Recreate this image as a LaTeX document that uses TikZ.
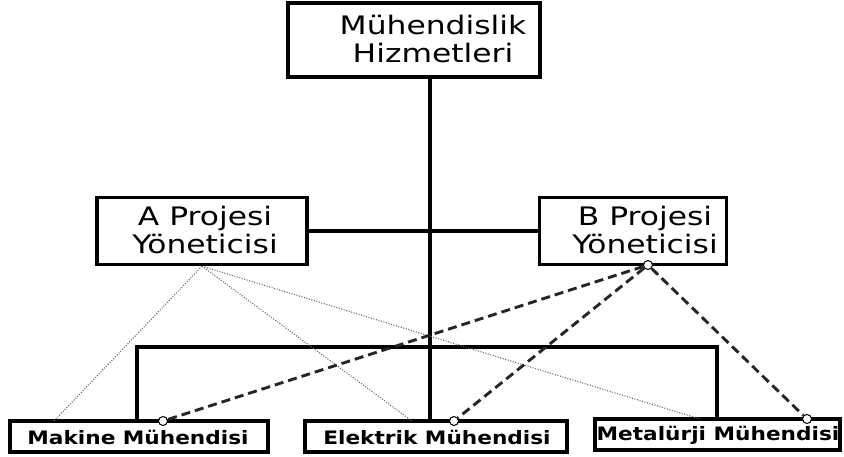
\documentclass[tikz,border=0pt]{standalone}
\usepackage{fontspec}
\newfontfamily\boxfont[FakeStretch=1.23]{DejaVu Sans}
\newfontfamily\rolefont[FakeStretch=1.17]{DejaVu Sans}
\usetikzlibrary{calc}
\begin{document}
\begin{tikzpicture}[x=1pt,y=-1pt,
  frame/.style={draw=black, line width=3.4pt, fill=white, inner sep=0pt},
  bigtext/.style={font=\boxfont\fontsize{25.5}{28.5}\selectfont, align=center, inner sep=0pt},
  roletext/.style={font=\rolefont\bfseries\fontsize{18.5}{21}\selectfont, inner sep=0pt},
  tree/.style={draw=black, line width=3.4pt},
  reportA/.style={draw=black!60, line width=1.1pt, dash pattern=on 1pt off 1.6pt},
  reportB/.style={draw=black!85, line width=2.9pt, dash pattern=on 9pt off 5pt},
  joint/.style={circle, draw=black, line width=1pt, fill=white, inner sep=0pt, minimum size=9pt}]
\useasboundingbox[fill=white] (0,0) rectangle (844,457);

% boxes
\node[frame, minimum width=252pt, minimum height=74pt] (mh) at (414,40) {};
\node[bigtext] (mhtext) at (433,39) {Mühendislik\\Hizmetleri};

\node[frame, minimum width=210pt, minimum height=67pt] (pa) at (202,231) {};
\node[bigtext] (patext) at (205,230) {A Projesi\\Yöneticisi};

\node[frame, minimum width=187pt, minimum height=67pt] (pb) at (633,231) {};
\node[bigtext] (pbtext) at (645,230) {B Projesi\\Yöneticisi};

\node[frame, minimum width=258pt, minimum height=31pt] (mk) at (139,436.5) {};
\node[roletext] (mktext) at (138,437) {Makine Mühendisi};

\node[frame, minimum width=262pt, minimum height=31pt] (el) at (436,436.5) {};
\node[roletext] (eltext) at (437,437) {Elektrik Mühendisi};

\node[frame, minimum width=245pt, minimum height=31pt] (mt) at (717.5,434.5) {};
\node[roletext] (mttext) at (718,435) {Metalürji Mühendisi};

% solid line structure
\coordinate (trunk) at (430,77);
\coordinate (barL) at (137,347);
\coordinate (barR) at (717,347);
\draw[tree] (trunk) -- (trunk |- el.north);
\draw[tree] (pa.east) -- (pb.west);
\draw[tree] (barL |- mk.north) -- (barL) -- (barR) -- (barR |- mt.north);

% dotted links from project A
\coordinate (mkA) at (54,421);
\coordinate (elA) at (412,421);
\coordinate (mtA) at (700,419);
\draw[reportA] (pa.south) -- (mkA);
\draw[reportA] (pa.south) -- (elA);
\draw[reportA] (pa.south) -- (mtA);

% dashed links from project B
\node[joint] (jb) at (648,265) {};
\node[joint] (jmk) at (163,421) {};
\node[joint] (jel) at (454,421) {};
\node[joint] (jmt) at (807,419) {};
\draw[reportB] (jb) -- (jmk);
\draw[reportB] (jb) -- (jel);
\draw[reportB] (jb) -- (jmt);
\end{tikzpicture}
\end{document}
